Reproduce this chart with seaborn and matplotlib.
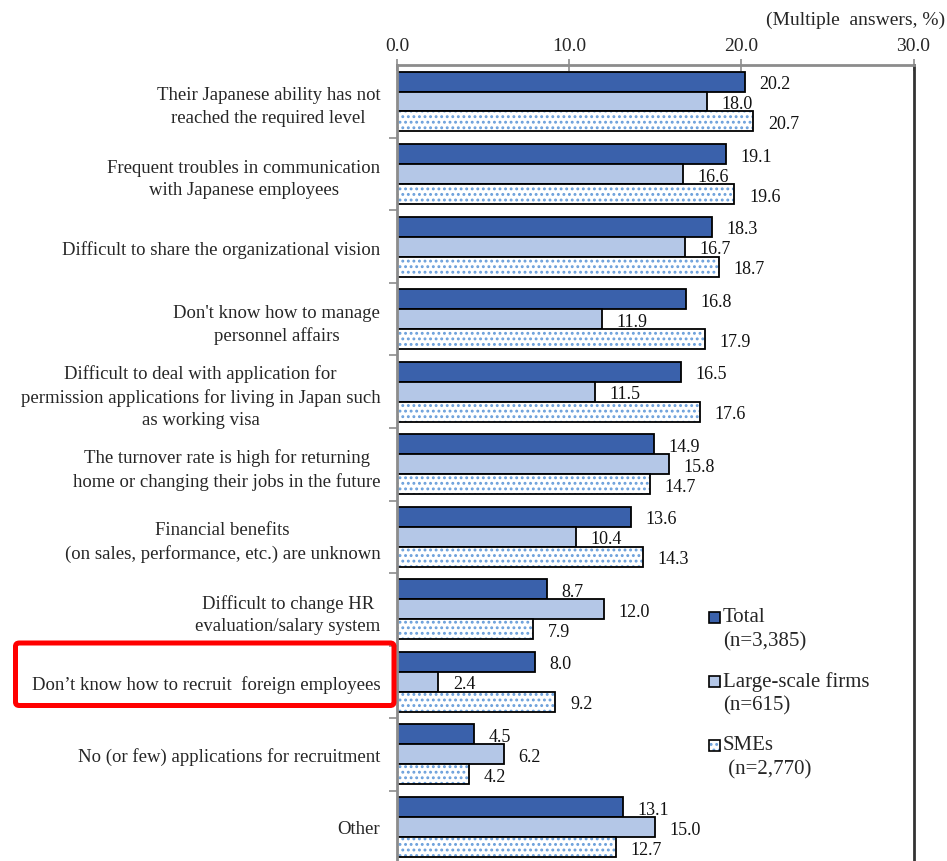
import matplotlib
matplotlib.use("Agg")
import matplotlib.pyplot as plt
import matplotlib.colors as mcolors
from matplotlib.patches import Rectangle, FancyBboxPatch
import pandas as pd
import seaborn as sns

# ---- data -------------------------------------------------------------
categories = [
    "Their Japanese ability has not\nreached the required level",
    "Frequent troubles in communication\nwith Japanese employees",
    "Difficult to share the organizational vision",
    "Don't know how to manage\npersonnel affairs",
    "Difficult to deal with application for\npermission applications for living in Japan such\nas working visa",
    "The turnover rate is high for returning\nhome or changing their jobs in the future",
    "Financial benefits\n(on sales, performance, etc.) are unknown",
    "Difficult to change HR\nevaluation/salary system",
    "Don\u2019t know how to recruit  foreign employees",
    "No (or few) applications for recruitment",
    "Other",
]
total = [20.2, 19.1, 18.3, 16.8, 16.5, 14.9, 13.6, 8.7, 8.0, 4.5, 13.1]
large = [18.0, 16.6, 16.7, 11.9, 11.5, 15.8, 10.4, 12.0, 2.4, 6.2, 15.0]
smes = [20.7, 19.6, 18.7, 17.9, 17.6, 14.7, 14.3, 7.9, 9.2, 4.2, 12.7]
series = ["Total", "Large-scale firms", "SMEs"]
series_n = ["(n=3,385)", "(n=615)", " (n=2,770)"]
x_ticks = [0.0, 10.0, 20.0, 30.0]

df = pd.DataFrame({
    "category": categories * 3,
    "series": [series[0]] * len(categories) + [series[1]] * len(categories) + [series[2]] * len(categories),
    "value": total + large + smes,
})

# ---- style ------------------------------------------------------------
sns.set_theme(style="white")
plt.rcParams["font.family"] = ["Liberation Serif", "DejaVu Serif"]
plt.rcParams["hatch.linewidth"] = 1.3
FS_CAT = 13.5
FS_VAL = 13
FS_TICK = 14
FS_LEG = 15
C_TOTAL = "#3A61AB"
C_LARGE = "#B4C7E7"
C_DOTS = "#6A9FDB"
GRAY = "#8C8C8C"

W, H = 947, 862
fig = plt.figure(figsize=(W / 100, H / 100), dpi=100)
ax_left, ax_right, ax_top = 397, 913.5, 66
ax = fig.add_axes([ax_left / W, 0, (ax_right - ax_left) / W, 1 - ax_top / H])

group_px = 72.55
first_center = 102.5
palette = {series[0]: C_TOTAL, series[1]: C_LARGE, series[2]: "white"}
sns.barplot(data=df, y="category", x="value", hue="series", hue_order=series,
            order=categories, orient="h", palette=palette, width=0.827,
            edgecolor="black", linewidth=1.3, saturation=1, legend=False, ax=ax)

# dotted fill for the SME bars
for p in ax.containers[2]:
    p.set_hatch("...")
    p._hatch_color = mcolors.to_rgba(C_DOTS)

ax.set_xlim(0, 30)
ax.set_ylim(len(categories) - 1 + (H - (first_center + 10 * group_px)) / group_px,
            -(first_center - ax_top) / group_px)

# value labels
for cont, vals in zip(ax.containers, [total, large, smes]):
    for p, v in zip(cont, vals):
        yc = p.get_y() + p.get_height() / 2
        ax.annotate(f"{v:.1f}", xy=(p.get_width(), yc), xytext=(10.5, -1.5),
                    textcoords="offset points", ha="left", va="center",
                    fontsize=FS_VAL, color="#111111")

# axes: x on top, categorical y labels
ax.xaxis.tick_top()
ax.set_xticks(x_ticks)
ax.set_xticklabels([f"{t:.1f}" for t in x_ticks], fontsize=FS_TICK)
ax.tick_params(axis="x", direction="inout", length=8, width=1.2, color=GRAY, pad=4)
ax.set_xlabel("")
ax.set_ylabel("")
ax.set_yticks(range(len(categories)))
ax.set_yticklabels(categories, fontsize=FS_CAT, multialignment="center", linespacing=1.4)
ax.tick_params(axis="y", length=0, pad=12)
ax.set_yticks([i + 0.5 for i in range(len(categories) - 1)], minor=True)
ax.tick_params(axis="y", which="minor", direction="out", length=6, width=1.2, color=GRAY, left=True)

for s in ["top", "left"]:
    ax.spines[s].set_color(GRAY)
    ax.spines[s].set_linewidth(2)
ax.spines["right"].set_color("#333333")
ax.spines["right"].set_linewidth(2)
ax.spines["bottom"].set_visible(False)

# legend drawn in pixel positions
def fx(px):
    return px / W

def fy(py):
    return 1 - py / H

legend_rows = [(618, 642, C_TOTAL, None), (682, 706, C_LARGE, None), (746, 770, "white", "...")]
for (y1, y2, col, hatch), name, n in zip(legend_rows, series, series_n):
    sq = Rectangle((fx(709), fy(y1 + 5.5)), 11 / W, 11 / H, transform=fig.transFigure,
                   facecolor=col, edgecolor="black", linewidth=1.2, hatch=hatch)
    if hatch:
        sq._hatch_color = mcolors.to_rgba(C_DOTS)
    fig.add_artist(sq)
    fig.text(fx(723), fy(y1), name, fontsize=FS_LEG, ha="left", va="center")
    fig.text(fx(723), fy(y2), n, fontsize=FS_LEG, ha="left", va="center")

fig.text(fx(945), fy(20), "(Multiple  answers, %)", fontsize=FS_TICK, ha="right", va="center")

# highlight box around one category label
box = FancyBboxPatch((fx(15.5), fy(706.5)), (394 - 15.5) / W, (706.5 - 644) / H,
                     boxstyle="round,pad=0,rounding_size=0.004", transform=fig.transFigure,
                     facecolor="none", edgecolor="#FF0000", linewidth=3.6)
fig.add_artist(box)

fig.savefig("out.png", dpi=100)
